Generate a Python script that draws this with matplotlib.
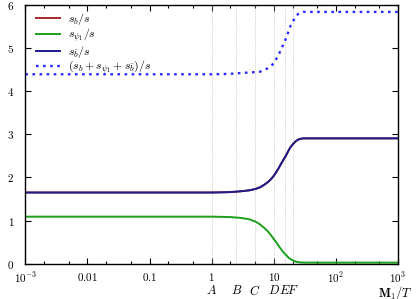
import matplotlib
matplotlib.use("Agg")
import matplotlib.pyplot as plt
import matplotlib.transforms as mtransforms
import numpy as np

plt.rcParams['mathtext.fontset'] = 'cm'
plt.rcParams['font.family'] = 'DejaVu Serif'
plt.rcParams['font.size'] = 8

# values
x = [1e-3, 0.01, 0.1, 1, 1.5, 2, 2.5, 3, 4, 5, 6, 7, 8, 9, 10, 11, 12, 13, 14, 15,
     16.5, 17.5, 18.5, 20, 21.5, 23, 25, 27, 30, 35, 100, 1e3]
s_bbar = [1.65, 1.65, 1.65, 1.65, 1.655, 1.66, 1.67, 1.68, 1.70, 1.73, 1.77, 1.83, 1.89, 1.96, 2.04,
          2.13, 2.22, 2.31, 2.39, 2.46, 2.57, 2.64, 2.70, 2.76, 2.81, 2.85, 2.88, 2.895, 2.905,
          2.905, 2.905, 2.905]
s_b = s_bbar
s_psi = [1.09, 1.09, 1.09, 1.09, 1.085, 1.08, 1.07, 1.06, 1.03, 0.98, 0.91, 0.83, 0.75, 0.66, 0.57,
         0.49, 0.41, 0.34, 0.28, 0.23, 0.17, 0.13, 0.11, 0.08, 0.06, 0.045, 0.035, 0.03, 0.027,
         0.025, 0.025, 0.025]
s_sum = list(np.array(s_b) + np.array(s_psi) + np.array(s_bbar))

marks = [1, 2.5, 5, 10, 15, 20]
mark_labels = ['A', 'B', 'C', 'D', 'E', 'F']
xticks = [1e-3, 0.01, 0.1, 1, 10, 100, 1e3]
xticklabels = ['$10^{-3}$', '$0.01$', '$0.1$', '$1$', '$10$', '$10^2$', '$10^3$']

fig = plt.figure(figsize=(4.16, 2.99), dpi=100)
ax = fig.add_axes([0.061, 0.118, 0.896, 0.866])

for m in marks:
    ax.axvline(m, color='#bbbbbb', lw=0.6, ls=':')
ax.axhline(0, color='#999999', lw=0.6, ls=':')

ax.plot(x, s_b, color='#a52a2a', lw=1.4, label='$s_b/s$')
ax.plot(x, s_psi, color='#1aa01a', lw=1.4, label='$s_{\\psi_1}/s$')
ax.plot(x, s_bbar, color='#1c1c8c', lw=1.4, label='$s_{\\bar{b}}/s$')
ax.plot(x, s_sum, color='#2a2aff', lw=1.7, ls=(0, (1.1, 1.9)),
        label='$(s_b+s_{\\psi_1}+s_{\\bar{b}})/s$')

ax.set_xscale('log')
ax.set_xlim(1e-3, 1e3)
ax.set_ylim(0, 6)
ax.set_xticks(xticks)
ax.set_xticklabels(xticklabels)
ax.set_xticks([2e-3, 5e-3, 2e-2, 5e-2, 0.2, 0.5, 2, 5, 20, 50, 200, 500], minor=True)
ax.set_yticks(range(7))
ax.set_yticklabels(['$%d$' % i for i in range(7)])
ax.tick_params(which='both', direction='in', top=True, right=True, width=0.8)
ax.tick_params(which='major', length=4, pad=5)
ax.tick_params(which='minor', length=2)
ax.tick_params(axis='y', pad=8)
for sp in ax.spines.values():
    sp.set_linewidth(1.0)

trans = mtransforms.blended_transform_factory(ax.transData, ax.transAxes)
for m, lab in zip(marks, mark_labels):
    ax.text(m, -0.078, '$' + lab + '$', transform=trans, ha='center', va='top', fontsize=9)
fig.text(0.993, 0.118 - 0.078 * 0.866, '$\\mathbf{M}_1/T$', ha='right', va='top', fontsize=9)

ax.legend(loc='upper left', bbox_to_anchor=(0.012, 1.0), frameon=False, fontsize=8.5,
          handlelength=2.0, labelspacing=-0.05, borderaxespad=0.15, handletextpad=0.7)

fig.savefig('out.png', dpi=100)
